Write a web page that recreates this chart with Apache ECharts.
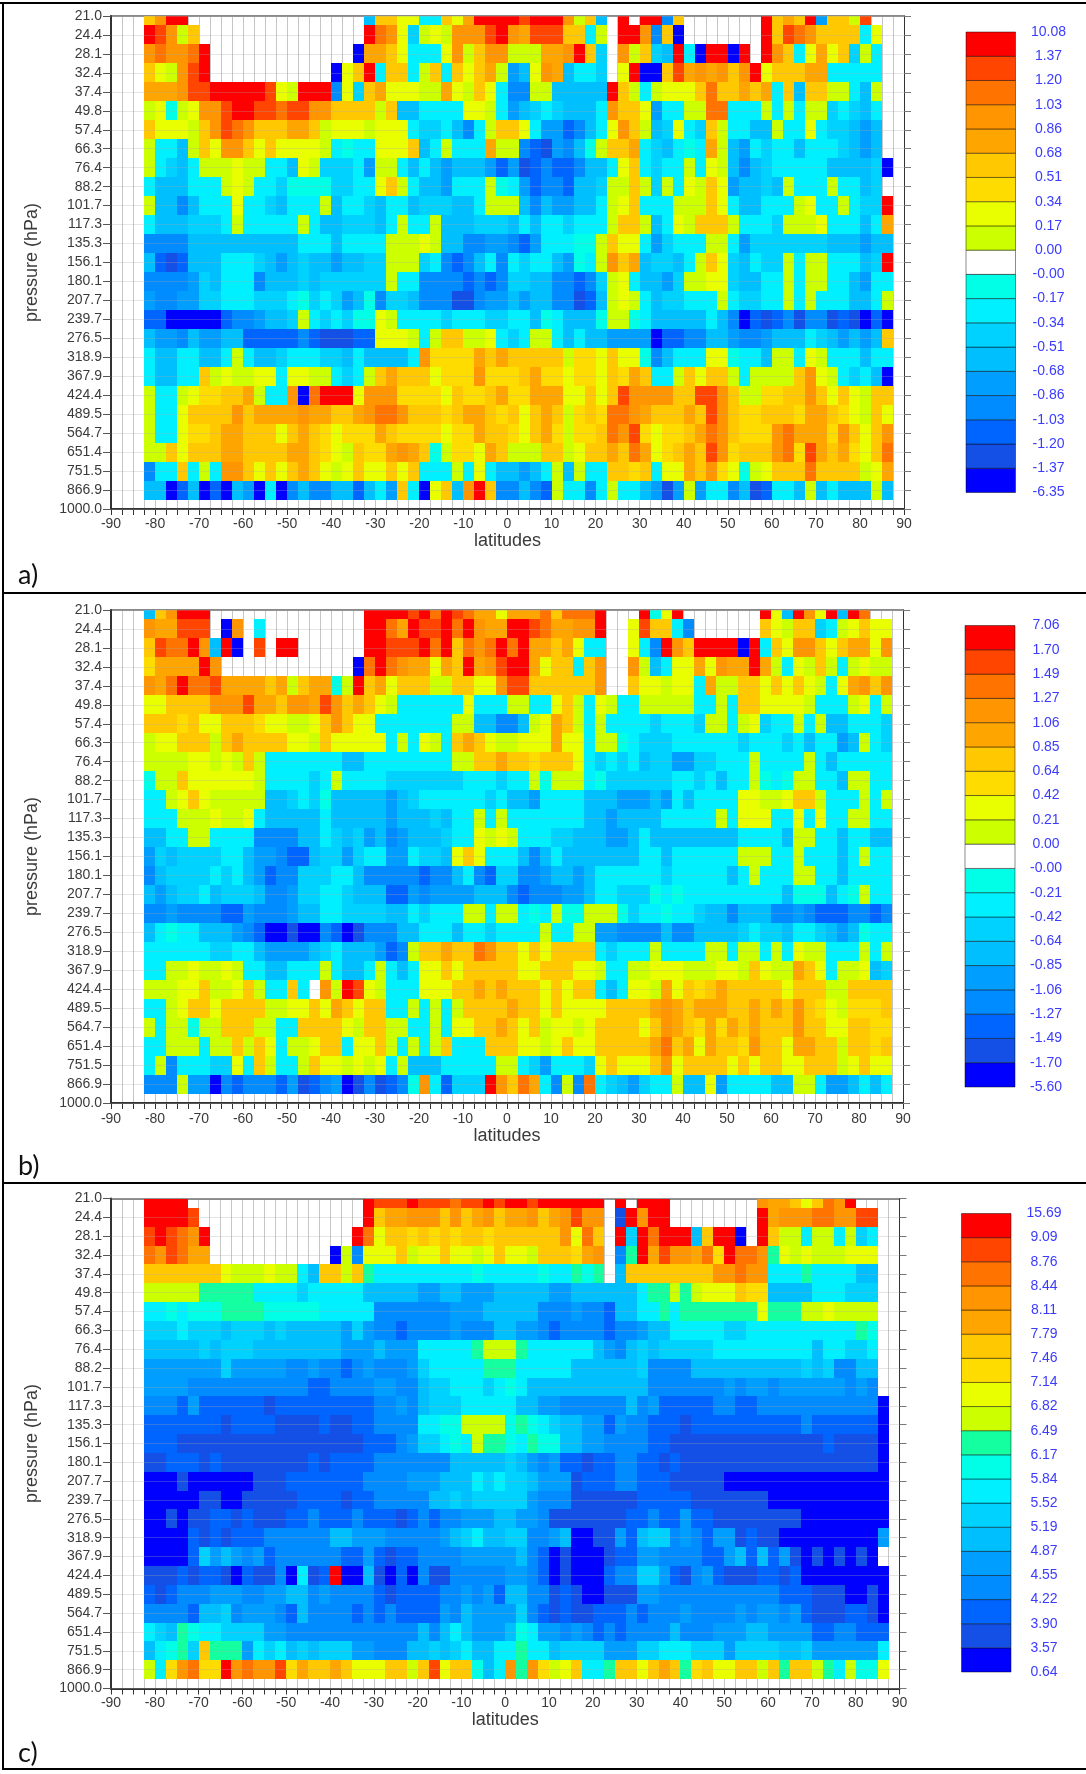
<!DOCTYPE html>
<html><head><meta charset="utf-8">
<style>html,body{margin:0;padding:0;background:#fff}#c{width:1086px;height:1774px}</style>
<script src="https://cdn.jsdelivr.net/npm/echarts@6/dist/echarts.min.js"></script>
</head><body><div id="c"></div>
<script>
const pressureLabels = ["21.0","24.4","28.1","32.4","37.4","49.8","57.4","66.3","76.4","88.2","101.7","117.3","135.3","156.1","180.1","207.7","239.7","276.5","318.9","367.9","424.4","489.5","564.7","651.4","751.5","866.9","1000.0"];
const classColors = ["#0000ff","#1450e6","#0064ff","#008cff","#009fff","#00bfff","#00d2ff","#00f0ff","#00ffe6","#ffffff","#ccff00","#e9ff00","#ffdc00","#ffc800","#ffa500","#ff9500","#ff7300","#ff4500","#ff0000"];
const classColorsC = classColors.map((c,i)=> i===9 ? "#14ffa0" : c);
// class codes, lowest to highest; "." = no data
const classCodes = "kjihgfedcWGYJKLMNOR";
const classCodesC = "kjihgfedcTGYJKLMNOR";
const legendA = ["-6.35","-1.37","-1.20","-1.03","-0.86","-0.68","-0.51","-0.34","-0.17","-0.00","0.00","0.17","0.34","0.51","0.68","0.86","1.03","1.20","1.37","10.08"];
const legendB = ["-5.60","-1.70","-1.49","-1.27","-1.06","-0.85","-0.64","-0.42","-0.21","-0.00","0.00","0.21","0.42","0.64","0.85","1.06","1.27","1.49","1.70","7.06"];
const legendC = ["0.64","3.57","3.90","4.22","4.55","4.87","5.19","5.52","5.84","6.17","6.49","6.82","7.14","7.46","7.79","8.11","8.44","8.76","9.09","15.69"];
const panelA = [
"KMRR...... .......... fKKYYddKYL RRRRORRRMG Kf.R.RRhK. ......RKLK RgKKGO..",
"ROMGK..... .......... RNMYeGYGMM MORMLOOOKK dG.RRMhKk. ......RKON MKKKKdY.",
"MNMMNR.... .........k LLKYdddYMG KMMGGGLLMR Ke.MGKefRd kRRkR.RMKd YLYKeGd.",
"KYGMOR.... .......kYK RdKKdGKdKY KLGgfYMLfd de.YRkkKOL MLMKMRYKKK LLddddd.",
"LLLMOORRRR ROYGRRRhYe KLYYYGGLYG KYdhhGGfff ffRKGdGYYY KNKKLKLdKf KKGGdfG.",
"GYcGYMMORR OONOOMMKKK KGKffddddY YGdgfedeff fdMKKYgddG GNNdddGdGd GGedefd.",
"KYYYGKMONM KKKLLKGYYY GYYYdeedfh dGKKYdggih fdYMKGfeYd eKGddffGdd Ydeefgf.",
"GddfGKYMMK YKYYYYGdcd dYYYKfdGdd dLGGhijghf cGKKLdefdc dLGfgdeddf dddefgf.",
"GdefdGGGYG GddfYGeeed gGGdfdfgff fgigjihiih ffdYKdeddG dYGfhfeddd ddffffek",
"dfffdddGYG ddecccceed dYKGdffgdd dGcdgihhif feGGKGeGdY GKYgffefGd ddGddfe.",
"GffhfdddYd defdddGfdd efddfeeeff dGGGfhfggf fdGYKdddGG GKYdffdddG YddGdeeR",
"dfffeeedGd ddddGdffee efdGddGfff eeefdfdded ddGKKGfdYG KKKGdddeGG GYdddfdL",
"hhhhffffff ffffdddfdd ddGGGYGffh hgghigdddc cGKYYdgedd dGGdgeeeee eefffgff",
"fijifffddd efgfeffgff eeGGGedhih fdhdeddfgc dGMKLfeefd GKYefdeeGd GGdddfeR",
"hhhhgefddd hfffefeeee eeGddhhhhi hiheeffhhi heGYdffgeG GYYeffddGd GGddfgdd",
"ghhggeeddd eeedcedegf cheefhhhjj hggfgffhhj ifGYGdfeed ddGdeeddGd GdddffdG",
"iikkkkkihh gffeGdedec cYGddddedd deeddfcdff fcGGcdffff fdfhkijihj hhjijkik",
"fgghfggffi iiiihijjji iYYYGdGKKG GYdedGGdfd ffggggkiih hffghhgfff defgfgfK",
"dffddffdGd ffedddeefd ffffdMJJJJ LKLKKKKKGJ JYKYYchfdd dYYcddfGGd YGdddfdd",
"dffddKGYGG YYdYYGGded GKLKKKYJJJ MJJJKLJJYJ JYKJLKddGK YKKGdGGGGK MYGdedfk",
"GddGYJJKKL GddMkNRRRY MMMJJJJYKJ JKLJJLLLYY KYKOMMMMKK OOMKGGJJKK MKYKYGKK",
"GddYKKKKMK LLLLMLLKKL MNNMKKKJKL LKJKYKLKGJ KJNNMLKKKL KOMKJJKKKJ LLKJYGKY",
"GddYJJKLLK KKYKLKJYJJ JLKJJJJYJJ LKKJYKLJGJ JKNMOJYJJK LNMKJJJMNL LLJMKYKM",
"GGKYKKKLLK KKKLLKJYGK JJLMLKcGJJ YLKGGGKKGY KKLKNLYJKL KOMJKKKMNJ OLKLJYKN",
"hddKdGdMMK YKYKLKYGYK YYKYKdddGd YdffgfdGfG ddKKJKdYYL KMJYcGYKKK NKKKKGYL",
"ffkifkikfg kdkhfhhffi fdgKdkYKfM RKhhfhiGdd hdGddfgjgG gddhfjiddf GfdfffGf"
];
const panelB = [
"fKMRRR.... .......... RRRRORNRON LLYLLLNKNN NR...RcYR. ......RYfR MYRfRN..",
"MLLOOO.kM. d......... RRNLROORNR MLLRRONLLM MR..YOKKdh ......KYGK KedGYKYY",
"KONNRMfRk. O.RR...... RROOORNRKN MNRNRLLKLY dd..YdhRMK RRRRkRdKYM MKYKLLYM",
"JLLLLRM... .........k NRNMLLYLKR LMORRLYKKd KM..MGfdYY LYMLLRLGdY GKGdGYGG",
"MLNRNNOLLL LKLGKLLcGR KLYKKKGGKK YYMOOKKKKK KM..KYYGYY dLGGKKYKYK YGdYLMKM",
"YYKKKKMMMO LLKMMLOMKL KYGddddddY dddGGddYKG dYGddGGGGG ddGdKKYYYY GdddGYdG",
"KKKJKYYKKK JYYGGYKMKY YdddddddGG ffhhfGYLKG dGddddeddd eGGdGYeddG dGffddde",
"GYYKKKGKLK KKKYYGKYYY YYdGdYGdKL KYGGYYYLYY dGGcdeeedd ddddeddded fddgfGde",
"GGGGYYGYGK Gdddddddff ddddddddGG KKLKKJKKKY dededfeegg eedddGdddd Gdfddddd",
"cGGKYYYYYY GddddedGdd ddeeeeeeed ddeddGcGGG dceeeeeedd edfddGcdcG GddfGGdd",
"ddGYKYGGGG Gffedecfff ffgfeddddd dedffgdddd fffgggfgdf ddddYYGGYK KGdddGdG",
"dddGGGYGGY dfffffdfff ffgfffefdd GdGddddddd ffgffffddd ddGdYYYddY dYddGGdd",
"ffddGGdddd hhhhffdefe gfhgfffedd YGYGdddeef ffggfdffff ffffddddfG Gddfddff",
"gefeeeeddf gghiifeege ddggdeefYK Ydddfhfdff fffffddfdd ddddGGGddG dddfdGdd",
"hfeeeededf gihheeeddf hhhhhihhfd hieehhgffg fddddddedd dddfdGdddG Gddfdddd",
"fgfeedfeee fhhgeeddef ffiighgggg fffhihhhgg fddeeecdcd ddddddddfc ccfdcGdd",
"hhghhhhiig hhhgffddee eeffdedddG GdGGdcdGcc GGGceddcdd effhfffhhg hiiihhih",
"fdcddfffgh ikkjkkhikj hhhffdddfd deddddGddG Ggghhhhfhh ffffedeefd defgfcdd",
"ddddddeedd fggggfedff fgihGKKLKK NMKKYKYKKK KdedddGddd dGGdGGdGdY GGdddGdG",
"ddGGYGGYGd dffdddGdff dGdfdYYKYK KKKKYYKKKY YGddGGYYYG GGYYGKYGGL KYdGGYfe",
"GGGYYKGGYK GddKd.MGRO YGdddYYYKK LKLKKKYKYK KdfdYYGLYK JKLKKKKKYK KKGGKKKK",
"ddGYKKYKKK KGGYYKYLKY KKddGdGdGK KKKLKKYKYY YYKKKKLMLK LLLKKLKLKM KJYGJJJK",
"GdGGcGGKKK GGddKKKKYG KKGGddGdYY KKLKYKGYYG YKKKKYKMLK JLJLKLKKKM KKYYKKJJ",
"ddGGGdGGKG KYdGGYKKdY YKGdGdGKdd dKKKYYGYKY YKKKKKLNKL YLKKJMKKYL LKKGKKJK",
"dGhdddeeYd KGddGKYYGY GYdGfffddd ddGGdegddd eYKYYYKMYK KKKYKYKKYY KKKGYKYY",
"hhhGggkhih hhigjihgkj hjihcMdiee eRMKNLdhGh NdefgeddGf fYgddddffG Gdggfdfd"
];
const panelC = [
"RRRR...... .......... ROOOROOONO ORORRORRRR RR.R.RRR.. ......MLLK YKNMR...",
"RRRRO..... .......... RKLLMMMKMK LMKLLMKLMO MM.jRMRR.. ......RLMM MNNMMOO.",
"ORONMR.... .........R NYKKJKJKJK KJKKKKKKMY NK.ReRNRRR fKRRk.RKGG dGGdGed.",
"NMONLL.... .......kGh YYYKGYYKYY GYKYYGKKKJ LM.hTRLOMM LNJRNNMTYG YGGGYYY.",
"KKKKKKKYGG GYGGdfKKGK Tddddddddd cdddddcddT cT.fKKKKKK KKMMNMMddd Tddddff.",
"GGGGGTTTTT ddddeddddd fffffggffg ggfffffggf fffffdTTGT GYYYKJJfff fdddeee.",
"ddcdcccTTT Tcccccdddd dhhhhhhhgg gfffffhhhg hhiffddTdT TTTTTTYTTT GGYGGGG.",
"eeedeeefee efefffffge ghhihhhhgh hhffgghihh hhihhgffdd dddeeddddd dddddTc.",
"fffffefeee ffffffffgg gfgggddddd TGGGTddddd dfghfefeee eedddddddd dfddeed.",
"gggggggegg ggghhghhih ghhhgedddd dTTTdddddf fffffehhhh ffffffffff efehhff.",
"gggghhhhhh hhhhhiihhh hgghhfeedd dedcdfffff ffffffhhhh hhhghgghgg gggghgh.",
"hhhigiiiii ijiiiiiiii ihhghfeeed ddddffgghh hhhhfhgiii iihhiihhhh hhhhhhhk",
"iiiiiiijii iijjjjijji ihhhhddccG GGGcTcdeff ggighhiiij iiiiiiiiii hiiiiiik",
"iiijjjjjjj jjjjjjjjjj iiihgeedcd GTTcdTccff gghhhhiijj jjjjjjjjjj jjijjjjk",
"jjiiijijjj jjjjjijiii ihhhhhhhff fffefghgii jiihhiijij jjjjjjjjjj jjjjjjjk",
"kkkjkkkkkk jjjiiiiiii hhhhgggfff dedeefgggj iiihhiiijj jjjkkkkkkk kkkkkkkk",
"kkkkkjjkkj jjjjiiiiji ihhhhhffef eeeeeghhhj jjjjjiiiii jjjjjjjkkk kkkkkkkk",
"kkjkjjiiji jjjiihiiih iiijihihhg ggffgghjjj jjjjiihiig iijjjjjjjj kkkkkkkk",
"kkkkijijii ihhhhhhffg gghhhhhgfe dffeehhgfk kjjgifeehg higgjijjkk kkkkkkkg",
"kkkkiegfgh gihhhhhhii gijiihhhhg ggggfhikjk kkjiigghhh hiigfifigj kjkjkjk.",
"jjjijiijki jjhkdjiRkk fjkikhjjhh hhhgghikjk kkihheegij hgijjjiiji kkkkkkkk",
"ijihhhgggh hggffhghhh hijiiiihhg hgiffhhjij kkjjjgghhh hhhhhhhhii ijjjkkjk",
"hhhhiffehg gghifhhhhi hihiiiighf ggggehijij jiiihihhhg hhhhghgghg ijjjiijk",
"defTcddeee egghhhhhhh hhhhhfhfdf gggfcdgghg hihihhhhfh hhgggffggg giihhiii",
"fdcTeKTTTg dedfefeeeg ghhhffefed ffddTddfee eegggeeddd eeegeeeeff eggggggd",
"GdJMNJJRMN MMOJLKKLKY YYKKGKOYKK cfdMTMJGYK ddTKKYKLKT JKYYKKGKTK KGTdGccY"
];

const FONT = "Liberation Sans";
const TXT = "#3a3a3a";
const chart = echarts.init(document.getElementById("c"), null, {renderer:"canvas"});

function cells(rows, codes, ticks){
  const nums = ticks.map(Number), out = [];
  rows.forEach((row, r) => {
    const s = row.replace(/ /g,"");
    for (let i = 0; i < s.length && i < 68; i++){
      const c = codes.indexOf(s[i]);
      if (c < 0) continue;
      out.push([-81.25 + 2.5*i, r, (nums[c]+nums[c+1])/2, c]);
    }
  });
  return out;
}

const option = {animation:false, backgroundColor:"#fff", grid:[], xAxis:[], yAxis:[], series:[], graphic:[]};

function addPanel(p){
  const base = option.grid.length, xi = option.xAxis.length, yi = option.yAxis.length;
  option.grid.push({left:p.l, top:p.t, width:p.r-p.l, height:p.b-p.t, outerBoundsMode:"none", containLabel:false});
  option.xAxis.push({gridIndex:base, type:"value", min:-90, max:90, interval:10, position:"bottom",
    name:"latitudes", nameLocation:"middle", nameGap:p.ng, nameTextStyle:{fontFamily:FONT,fontSize:18,color:TXT},
    axisLine:{show:true,onZero:false,lineStyle:{color:"#333",width:2}},
    axisTick:{show:true,length:6,lineStyle:{color:"#333"}},
    minorTick:{show:true,splitNumber:4,length:6,lineStyle:{color:"#333"}},
    axisLabel:{fontFamily:FONT,fontSize:14,color:TXT,margin:p.xm,hideOverlap:false},
    splitLine:{show:true,lineStyle:{color:"#c6c6c6"}},
    minorSplitLine:{show:true,lineStyle:{color:"#c6c6c6"}}});
  option.xAxis.push({gridIndex:base, type:"value", min:-90, max:90, interval:10, position:"top",
    axisLine:{show:true,onZero:false,lineStyle:{color:"#8a8a8a",width:2}},axisTick:{show:false},axisLabel:{show:false},splitLine:{show:false}});
  option.yAxis.push({gridIndex:base, type:"value", inverse:true, min:0, max:26, interval:1, position:"left", z:3,
    name:"pressure (hPa)", nameLocation:"middle", nameGap:70, nameRotate:90, nameTextStyle:{fontFamily:FONT,fontSize:18,color:TXT},
    axisLine:{show:true,onZero:false,lineStyle:{color:"#333",width:2}},
    axisTick:{show:true,length:8,lineStyle:{color:"#555"}},
    axisLabel:{fontFamily:FONT,fontSize:14,color:TXT,margin:9,hideOverlap:false,formatter:v=>pressureLabels[v]},
    splitLine:{show:true,lineStyle:{color:"rgba(170,170,170,0.3)"}}});
  option.yAxis.push({gridIndex:base, type:"value", inverse:true, min:0, max:26, interval:1, position:"right", z:3,
    axisLine:{show:true,onZero:false,lineStyle:{color:"#333",width:1}},
    axisTick:{show:true,length:7,lineStyle:{color:"#777"}},axisLabel:{show:false},splitLine:{show:false}});
  const colors = p.colors;
  option.series.push({type:"custom", xAxisIndex:xi, yAxisIndex:yi, clip:true, z:2, silent:true,
    encode:{x:0,y:1}, dimensions:["lat","row","value","cls"], data:cells(p.rows,p.codes,p.ticks),
    renderItem:(params,api)=>{
      const lat=api.value(0), r=api.value(1);
      const a=api.coord([lat-1.25,Math.max(r-0.5,0)]), b=api.coord([lat+1.25,r+0.5]);
      const x=Math.round(a[0]), y=Math.round(a[1]);
      return {type:"rect",shape:{x,y,width:Math.round(b[0])-x,height:Math.round(b[1])-y},style:{fill:colors[api.value(3)]}};
    }});
  // colour bar
  const g2 = option.grid.length, x2 = option.xAxis.length, y2 = option.yAxis.length;
  option.grid.push({left:p.ll, top:p.lt, width:p.lr-p.ll, height:p.lb-p.lt, outerBoundsMode:"none", containLabel:false});
  option.xAxis.push({gridIndex:g2,type:"value",min:0,max:1,show:false});
  const labels=p.ticks;
  option.yAxis.push({gridIndex:g2,type:"value",min:0,max:19,interval:1,position:"right",
    axisLine:{show:false},axisTick:{show:false},splitLine:{show:false},
    axisLabel:{fontFamily:FONT,fontSize:14,color:"#3b3bff",margin:p.lm,align:"center",hideOverlap:false,formatter:v=>labels[v]}});
  option.series.push({type:"custom",xAxisIndex:x2,yAxisIndex:y2,clip:false,z:2,silent:true,
    data:colors.map((c,i)=>[0,i,i]),
    renderItem:(params,api)=>{
      const i=api.value(1);
      const a=api.coord([0,i+1]), b=api.coord([1,i]);
      return {type:"rect",shape:{x:a[0],y:a[1],width:b[0]-a[0],height:b[1]-a[1]},
        style:{fill:colors[i],stroke:"rgba(0,0,0,0.45)",lineWidth:1}};
    }});
}

addPanel({rows:panelA,codes:classCodes,ticks:legendA,colors:classColors,l:111,r:904,t:16,b:509,ng:21,xm:8,ll:966,lr:1015.5,lt:32,lb:492.5,lm:33});
addPanel({rows:panelB,codes:classCodes,ticks:legendB,colors:classColors,l:111,r:903,t:610,b:1103,ng:22,xm:9,ll:965,lr:1015,lt:625.5,lb:1087,lm:31});
addPanel({rows:panelC,codes:classCodesC,ticks:legendC,colors:classColorsC,l:111,r:899.5,t:1198.5,b:1688.5,ng:21,xm:8,ll:961.5,lr:1011,lt:1213.5,lb:1672,lm:33});

const rule=(x,y,w,h)=>({type:"rect",silent:true,shape:{x,y,width:w,height:h},style:{fill:"#000"},z:10});
option.graphic=[
  rule(0,2,1086,2), rule(2,2,2,1768), rule(2,592,1084,2), rule(2,1182,1084,2), rule(2,1768,1084,2),
  ...[["a)",18,575],["b)",18,1166],["c)",18,1753]].map(([t,x,y])=>({type:"text",silent:true,x,y,z:10,
    style:{text:t,fontFamily:"Lato",fontSize:27,fill:"#111",verticalAlign:"middle"}}))
];
chart.setOption(option);
</script></body></html>
